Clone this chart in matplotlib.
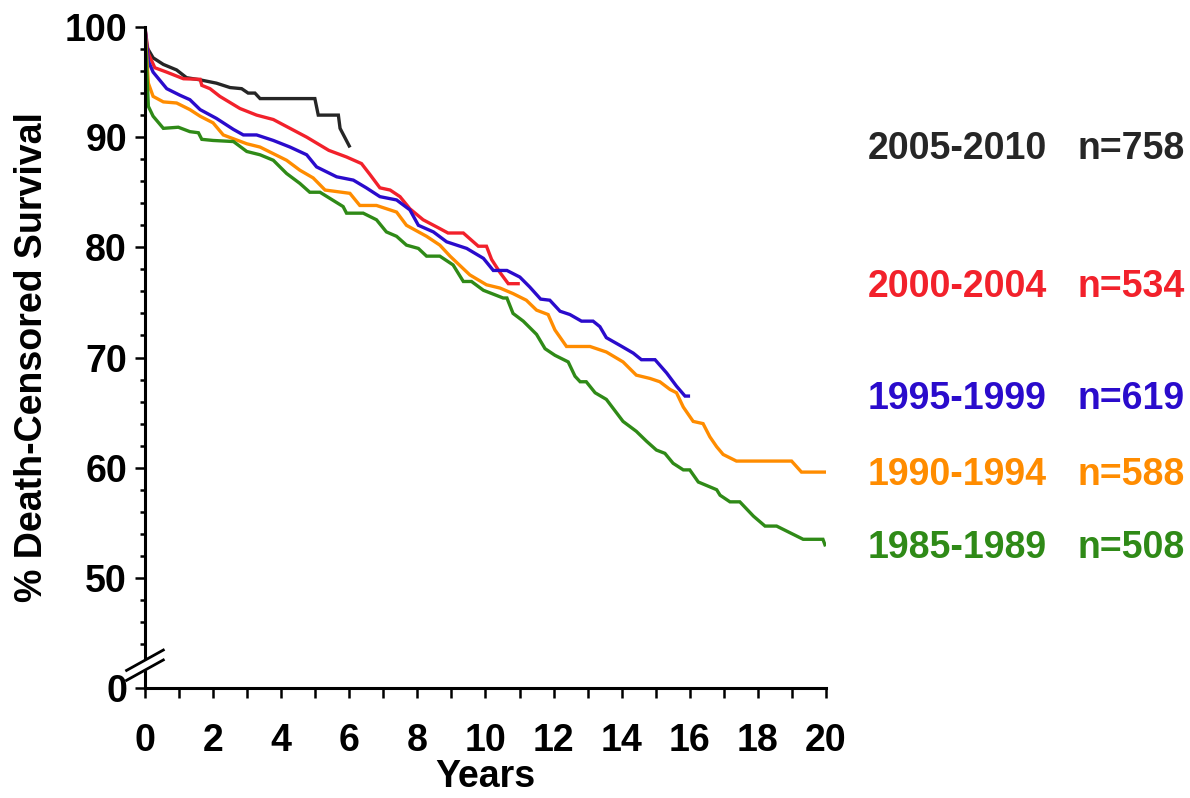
import matplotlib
matplotlib.use("Agg")
import matplotlib.pyplot as plt
from matplotlib.ticker import FixedLocator, MultipleLocator

plt.rcParams['font.family'] = ['Liberation Sans', 'DejaVu Sans']
plt.rcParams['font.weight'] = 'bold'

# Kaplan-Meier curves (years, % survival)
x_0510 = [0, 0.05, 0.24, 0.54, 0.93, 1.22, 1.62, 2.1, 2.5, 2.84, 3.03, 3.23, 3.38, 4.99, 5.09, 5.68, 5.73, 6.0]
y_0510 = [100, 98.2, 97.2, 96.6, 96.1, 95.4, 95.2, 94.9, 94.5, 94.4, 94.0, 94.0, 93.5, 93.5, 92.0, 92.0, 90.8, 89.2]

x_0004 = [0, 0.1, 0.29, 0.64, 1.13, 1.62, 1.67, 1.91, 2.2, 2.79, 3.28, 3.77, 4.26, 4.75, 5.4, 5.92, 6.36, 6.61,
          6.9, 7.2, 7.49, 7.78, 8.17, 8.66, 8.9, 9.35, 9.79, 10.03, 10.18, 10.43, 10.67, 10.96]
y_0004 = [100, 97.6, 96.3, 95.9, 95.3, 95.25, 94.7, 94.4, 93.7, 92.6, 92.0, 91.6, 90.8, 90.0, 88.8, 88.2, 87.6, 86.6,
          85.4, 85.2, 84.6, 83.5, 82.5, 81.7, 81.3, 81.3, 80.1, 80.1, 78.9, 77.7, 76.7, 76.7]

x_9599 = [0, 0.1, 0.24, 0.64, 1.03, 1.32, 1.62, 2.1, 2.6, 2.89, 3.28, 3.77, 4.26, 4.75, 5.04, 5.63, 6.12, 6.5,
          6.9, 7.39, 7.78, 8.03, 8.47, 8.86, 9.45, 9.94, 10.23, 10.63, 11.01, 11.3, 11.62, 11.89, 12.19, 12.48,
          12.82, 13.16, 13.36, 13.55, 13.95, 14.34, 14.58, 14.98, 15.32, 15.61, 15.86, 15.96]
y_9599 = [100, 96.9, 95.9, 94.4, 93.8, 93.4, 92.5, 91.7, 90.7, 90.2, 90.2, 89.7, 89.1, 88.4, 87.3, 86.4, 86.1, 85.4,
          84.6, 84.3, 83.4, 82.0, 81.4, 80.5, 79.9, 79.0, 77.9, 77.9, 77.3, 76.4, 75.3, 75.2, 74.2, 73.9,
          73.3, 73.3, 72.8, 71.8, 71.1, 70.4, 69.8, 69.8, 68.6, 67.4, 66.5, 66.5]

x_9094 = [0, 0.1, 0.24, 0.54, 0.93, 1.32, 1.62, 2.0, 2.3, 2.99, 3.38, 3.77, 4.16, 4.55, 4.94, 5.29, 6.02, 6.31,
          6.8, 7.39, 7.68, 8.27, 8.66, 8.96, 9.54, 10.03, 10.43, 10.81, 11.2, 11.5, 11.84, 12.04, 12.38, 13.07,
          13.55, 14.04, 14.43, 14.83, 15.12, 15.42, 15.61, 15.81, 16.1, 16.39, 16.59, 16.79, 16.98, 17.37,
          18.99, 19.28, 19.97]
y_9094 = [100, 94.9, 93.7, 93.2, 93.1, 92.5, 91.9, 91.3, 90.2, 89.4, 89.1, 88.5, 87.9, 87.0, 86.3, 85.2, 84.9, 83.8,
          83.8, 83.2, 82.0, 81.0, 80.2, 79.2, 77.5, 76.6, 76.3, 75.8, 75.2, 74.3, 73.9, 72.5, 71.0, 71.0,
          70.5, 69.6, 68.4, 68.1, 67.8, 67.1, 66.8, 65.5, 64.2, 64.0, 62.8, 61.9, 61.2, 60.6,
          60.6, 59.6, 59.6]

x_8589 = [0, 0.1, 0.24, 0.54, 0.98, 1.32, 1.57, 1.67, 2.0, 2.6, 2.99, 3.38, 3.77, 4.16, 4.55, 4.84, 5.14, 5.82,
          5.92, 6.41, 6.8, 7.09, 7.39, 7.68, 8.03, 8.27, 8.66, 9.05, 9.35, 9.59, 9.94, 10.52, 10.63, 10.81,
          11.11, 11.5, 11.75, 12.04, 12.43, 12.63, 12.78, 12.96, 13.22, 13.55, 14.04, 14.43, 14.73, 15.02,
          15.27, 15.51, 15.81, 16.0, 16.25, 16.79, 16.89, 17.18, 17.47, 17.87, 18.21, 18.55, 18.94, 19.33,
          19.91, 19.97]
y_8589 = [100, 92.8, 91.9, 90.8, 90.9, 90.5, 90.4, 89.8, 89.7, 89.6, 88.7, 88.4, 87.9, 86.7, 85.8, 85.0, 85.0, 83.7,
          83.1, 83.1, 82.5, 81.4, 81.0, 80.2, 79.9, 79.2, 79.2, 78.4, 76.9, 76.9, 76.1, 75.4, 75.4, 74.0,
          73.3, 72.1, 70.8, 70.2, 69.6, 68.3, 67.8, 67.8, 66.8, 66.2, 64.2, 63.3, 62.4, 61.6,
          61.3, 60.4, 59.8, 59.8, 58.7, 58.0, 57.5, 56.9, 56.9, 55.6, 54.7, 54.7, 54.1, 53.5,
          53.5, 53.0]

periods = ['2005-2010', '2000-2004', '1995-1999', '1990-1994', '1985-1989']
counts = ['n=758', 'n=534', 'n=619', 'n=588', 'n=508']
kleuren = ['#262626', '#f2212b', '#2a0bcc', '#ff8c00', '#2f8a17']
reeksen = [(x_0510, y_0510), (x_0004, y_0004), (x_9599, y_9599), (x_9094, y_9094), (x_8589, y_8589)]
label_base = [0.8004, 0.6283, 0.4871, 0.3922, 0.3003]

fig = plt.figure(figsize=(11.9, 7.98), dpi=100)
ax = fig.add_axes([0.1218, 0.1378, 0.5723, 0.8284])

for (xs, ys), kleur in zip(reeksen, kleuren):
    ax.plot(xs, ys, color=kleur, lw=2.4, solid_joinstyle='miter')

ax.set_xlim(0, 20)
ax.set_ylim(40, 100)
for kant in ['top', 'right']:
    ax.spines[kant].set_visible(False)
for kant in ['left', 'bottom']:
    ax.spines[kant].set_linewidth(2.2)

ax.xaxis.set_major_locator(MultipleLocator(2))
ax.xaxis.set_minor_locator(MultipleLocator(1))
ax.yaxis.set_major_locator(FixedLocator([40, 50, 60, 70, 80, 90, 100]))
ax.yaxis.set_minor_locator(FixedLocator([44, 46, 48] + list(range(52, 100, 2))))
ax.set_yticklabels(['0', '50', '60', '70', '80', '90', '100'])

ax.tick_params(axis='both', which='major', direction='out', length=7, width=1.8, labelsize=27, pad=6)
ax.tick_params(axis='x', which='major', pad=18)
ax.tick_params(axis='y', which='minor', direction='out', length=3.8, width=1.8)
ax.tick_params(axis='x', which='minor', direction='out', length=7, width=1.8)
for lbl in ax.get_xticklabels() + ax.get_yticklabels():
    lbl.set_fontweight('bold')

ax.set_xlabel('Years', fontsize=27, fontweight='bold', labelpad=0)
ax.set_ylabel('% Death-Censored Survival', fontsize=27, fontweight='bold', labelpad=10)

# axis break marks
ax.fill([-0.54, 0.54, 0.54, -0.54], [41.6, 43.45, 42.5, 40.7], color='white', clip_on=False, zorder=5)
ax.plot([-0.54, 0.54], [41.6, 43.45], color='black', lw=2.0, clip_on=False, zorder=6)
ax.plot([-0.54, 0.54], [40.7, 42.55], color='black', lw=2.0, clip_on=False, zorder=6)

for periode, n, kleur, yb in zip(periods, counts, kleuren, label_base):
    fig.text(0.7294, yb, periode, color=kleur, fontsize=27, fontweight='bold', va='baseline', ha='left')
    fig.text(0.9958, yb, n, color=kleur, fontsize=27, fontweight='bold', va='baseline', ha='right')

fig.savefig('out.png', dpi=100)
